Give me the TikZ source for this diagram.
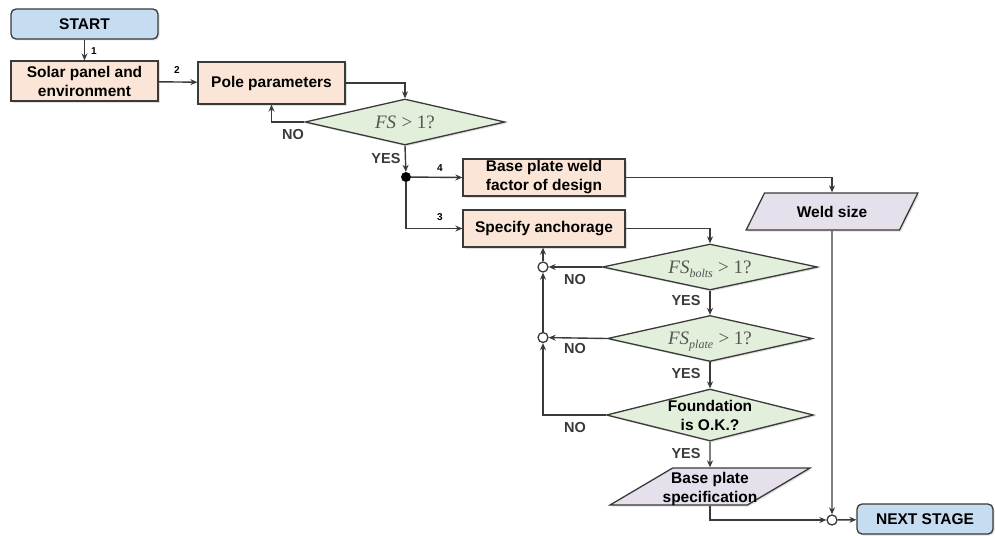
\documentclass[tikz,border=0pt]{standalone}
\usepackage{fontspec}
\setmainfont{Liberation Sans}
\newfontfamily\serifmath{Liberation Serif}
\usetikzlibrary{shapes.geometric,arrows.meta,shadows}

\definecolor{termblue}{HTML}{C6DCF1}
\definecolor{procpeach}{HTML}{FBE5D6}
\definecolor{decgreen}{HTML}{E2EFDA}
\definecolor{iolilac}{HTML}{E5E0EC}
\definecolor{edgegray}{HTML}{3A3A3A}
\definecolor{mathgray}{HTML}{555555}

% text that takes (almost) no room inside a shape
\newcommand{\inshape}[1]{\makebox[2pt]{\smash{\makebox[0pt]{\raisebox{-6pt}{\begin{tabular}{@{}c@{}}#1\end{tabular}}}}}\rule[-1pt]{0pt}{2pt}}
\newcommand{\fsub}[1]{{\serifmath\itshape FS\raisebox{-0.45ex}{\fontsize{12}{12}\selectfont #1}}}

\begin{document}
\begin{tikzpicture}[
  x=1pt, y=-1pt,
  font=\fontsize{15.5}{19}\selectfont\bfseries,
  box/.style={draw=edgegray, line width=1.3pt, fill=#1, align=center, inner sep=0pt,
    drop shadow={shadow xshift=1.5pt, shadow yshift=-1.5pt, fill=black!25}},
  term/.style={box=termblue, rounded corners=5pt, minimum height=30pt},
  proc/.style={box=procpeach, minimum width=#1},
  decision/.style={diamond, draw=edgegray, line width=1.3pt, fill=decgreen, inner sep=0pt,
    minimum height=46pt, minimum width=#1,
    drop shadow={shadow xshift=1.5pt, shadow yshift=-1.5pt, fill=black!25}},
  io/.style={trapezium, trapezium stretches=true, trapezium left angle=50, trapezium right angle=130,
    draw=edgegray, line width=1.3pt, fill=iolilac, inner sep=0pt, minimum height=37pt, minimum width=#1,
    drop shadow={shadow xshift=1.5pt, shadow yshift=-1.5pt, fill=black!25}},
  arrow/.style={draw=edgegray, line width=1.4pt, -{Stealth[length=7pt, width=6pt]}},
  dot/.style={circle, fill=black, inner sep=0pt, minimum size=10pt},
  junc/.style={circle, draw=edgegray, line width=1.3pt, fill=white, inner sep=0pt, minimum size=10pt},
  lbl/.style={font=\fontsize{14.5}{16}\selectfont\bfseries, text=edgegray, inner sep=0pt},
  num/.style={font=\fontsize{10}{12}\selectfont\bfseries, inner sep=0pt}
]
\useasboundingbox (0,0) rectangle (995,535);

% nodes
\node[term, minimum width=147pt] (start) at (84.5,24) {START};
\node[proc=147pt, minimum height=40pt] (solar) at (84.5,81) {Solar panel and\\environment};
\node[proc=147pt, minimum height=42pt] (pole) at (271.5,83) {Pole parameters};
\node[decision=200pt] (fs) at (405,122)
  {\inshape{\fontsize{19}{21}\selectfont\mdseries\color{mathgray}{\serifmath\itshape FS} {\serifmath > 1?}}};
\node[dot] (fork) at (406,177) {};
\node[proc=162pt, minimum height=37pt] (weld) at (544,177.5) {Base plate weld\\factor of design};
\node[proc=162pt, minimum height=37pt] (anchor) at (544,228.5) {Specify anchorage};
\node[io=173pt] (wsize) at (832,211.5) {Weld size};
\node[decision=215pt] (fsb) at (710,267)
  {\inshape{\fontsize{19}{21}\selectfont\mdseries\color{mathgray}\fsub{bolts} {\serifmath > 1?}}};
\node[decision=205pt] (fsp) at (710,338.5)
  {\inshape{\fontsize{19}{21}\selectfont\mdseries\color{mathgray}\fsub{plate} {\serifmath > 1?}}};
\node[decision=207pt, minimum height=52pt] (found) at (710,415)
  {\inshape{\def\arraystretch{1.15}Foundation\\is O.K.?}};
\node[io=200pt] (spec) at (710,486.5) {\inshape{Base plate\\specification}};
\node[junc] (j1) at (543,267) {};
\node[junc] (j2) at (543,337.5) {};
\node[junc] (j3) at (832,520) {};
\node[term, minimum width=136pt] (next) at (925,519) {NEXT STAGE};

% connectors
\draw[arrow] (start) -- (solar);
\draw[arrow] (solar) -- (pole);
\draw[arrow] (pole.east) -| (fs.north);
\draw[arrow] (fs.west) -| (pole.south);
\draw[arrow] (fs.south) -- (fork);
\draw[arrow] (fork) -- (weld.west);
\draw[arrow] (fork) |- (anchor.west);
\draw[arrow] (weld.east) -| (wsize.north);
\draw[arrow] (anchor.east) -| (fsb.north);
\draw[arrow] (fsb.west) -- (j1);
\draw[arrow] (j1) -- (j1 |- anchor.south);
\draw[arrow] (fsb.south) -- (fsp.north);
\draw[arrow] (fsp.west) -- (j2);
\draw[arrow] (j2) -- (j1);
\draw[arrow] (fsp.south) -- (found.north);
\draw[arrow] (found.west) -| (j2);
\draw[arrow] (found.south) -- (spec.north);
\draw[arrow] (spec.south) |- (j3);
\draw[arrow] (wsize.south) -- (j3);
\draw[arrow] (j3) -- (next);

% labels
\node[num] (n1) at (94,51) {1};
\node[num] (n2) at (177,70) {2};
\node[num] (n4) at (440,168) {4};
\node[num] (n3) at (440,217) {3};
\node[lbl] (no0) at (293,135) {NO};
\node[lbl] (yes0) at (386,159) {YES};
\node[lbl] (no1) at (575,280) {NO};
\node[lbl] (yes1) at (686,301) {YES};
\node[lbl] (no2) at (575,349) {NO};
\node[lbl] (yes2) at (686,374) {YES};
\node[lbl] (no3) at (575,428) {NO};
\node[lbl] (yes3) at (686,454) {YES};
\end{tikzpicture}
\end{document}
